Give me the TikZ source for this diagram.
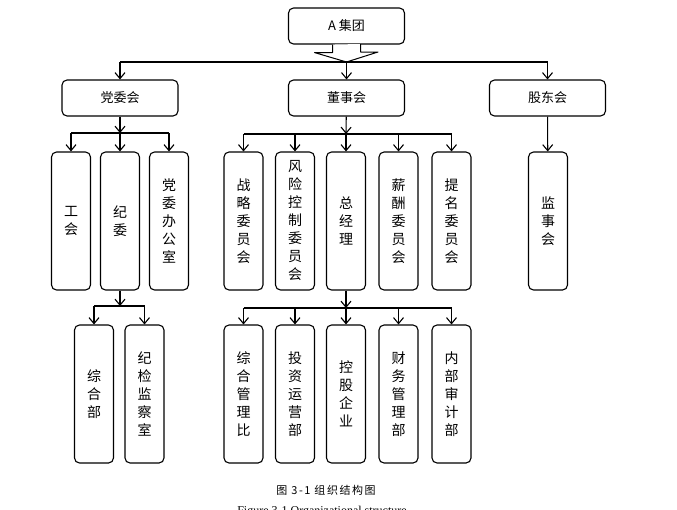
\documentclass[tikz,border=0pt]{standalone}
\usepackage{fontspec}
\setmainfont{Liberation Serif}
\newfontfamily\cjk{Noto Sans CJK SC}
\newfontfamily\capfont[LetterSpace=14]{Noto Sans CJK SC}
\usetikzlibrary{arrows.meta,calc}

\begin{document}
\begin{tikzpicture}[x=1pt,y=-1pt,
  wide/.style={draw, line width=1.1pt, rounded corners=5pt, minimum width=116pt,
    minimum height=36pt, inner sep=0pt, font=\cjk\fontsize{13}{15}\selectfont},
  tall/.style={draw, line width=1.1pt, rounded corners=5pt, minimum width=39pt,
    minimum height=138pt, inner sep=0pt, align=center,
    font=\cjk\fontsize{14}{18}\selectfont},
  link/.style={line width=1.1pt, -{Straight Barb[length=6pt,width=10pt]}},
  bus/.style={line width=1.1pt}]
  \useasboundingbox (0,0) rectangle (677,509);

  % Top level
  \node[wide] (group) at (346.5,26) {A 集团};
  \node[wide] (party) at (120,98) {党委会};
  \node[wide] (board) at (346.5,98) {董事会};
  \node[wide] (share) at (547.5,98) {股东会};
  \coordinate (topbus) at (346.5,62);
  \draw[line width=1pt, fill=white, line join=round]
    ($(group.south)+(-14,0)$) -- ++(0,8) -- ++(-18,0) -- (group.south |- topbus)
    -- ++(31.5,-10) -- ++(-17.5,0) -- ++(0,-8);
  \draw[bus] (party |- topbus) -- (share |- topbus);
  \foreach \n in {party, board, share} \draw[link] (\n |- topbus) -- (\n.north);

  % Party committee
  \node[tall] (union) at (71,221) {工\\会};
  \node[tall] (disc) at (120,221) {纪\\委};
  \node[tall] (office) at (169,221) {党\\委\\办\\公\\室};
  \coordinate (pbus) at (120,133);
  \draw[link] (party) -- (pbus);
  \draw[bus] (union |- pbus) -- (office |- pbus);
  \foreach \n in {union, disc, office} \draw[link] (\n |- pbus) -- (\n.north);

  \node[tall] (general) at (94,394) {综\\合\\部};
  \node[tall] (inspect) at (144.5,394) {纪\\检\\监\\察\\室};
  \coordinate (dbus) at (120,306);
  \draw[link] (disc) -- (dbus);
  \draw[bus] (general |- dbus) -- (inspect |- dbus);
  \foreach \n in {general, inspect} \draw[link] (\n |- dbus) -- (\n.north);

  % Board of directors
  \node[tall] (strat) at (243.5,221) {战\\略\\委\\员\\会};
  \node[tall] (risk) at (295,221) {风\\险\\控\\制\\委\\员\\会};
  \node[tall] (ceo) at (346,221) {总\\经\\理};
  \node[tall] (pay) at (398.5,221) {薪\\酬\\委\\员\\会};
  \node[tall] (nomin) at (451.5,221) {提\\名\\委\\员\\会};
  \coordinate (bbus) at (346,134);
  \draw[link] (board) -- (bbus);
  \draw[bus] (strat |- bbus) -- (nomin |- bbus);
  \foreach \n in {strat, risk, ceo, pay, nomin} \draw[link] (\n |- bbus) -- (\n.north);

  \node[tall] (admin) at (243.5,394) {综\\合\\管\\理\\比};
  \node[tall] (invest) at (295,394) {投\\资\\运\\营\\部};
  \node[tall] (hold) at (346,394) {控\\股\\企\\业};
  \node[tall] (fin) at (398.5,394) {财\\务\\管\\理\\部};
  \node[tall] (audit) at (451.5,394) {内\\部\\审\\计\\部};
  \coordinate (cbus) at (346,308);
  \draw[link] (ceo) -- (cbus);
  \draw[bus] (admin |- cbus) -- (audit |- cbus);
  \foreach \n in {admin, invest, hold, fin, audit} \draw[link] (\n |- cbus) -- (\n.north);

  % Shareholders
  \node[tall] (super) at (548,221) {监\\事\\会};
  \draw[link] (share) -- (super);

  % Caption
  \node[font=\capfont\fontsize{11}{13}\selectfont] (cap) at (326,490) {图 3-1 组织结构图};
  \node[font=\fontsize{12}{14}\selectfont] (capen) at (322,512) {Figure 3-1 Organizational structure};
\end{tikzpicture}
\end{document}
